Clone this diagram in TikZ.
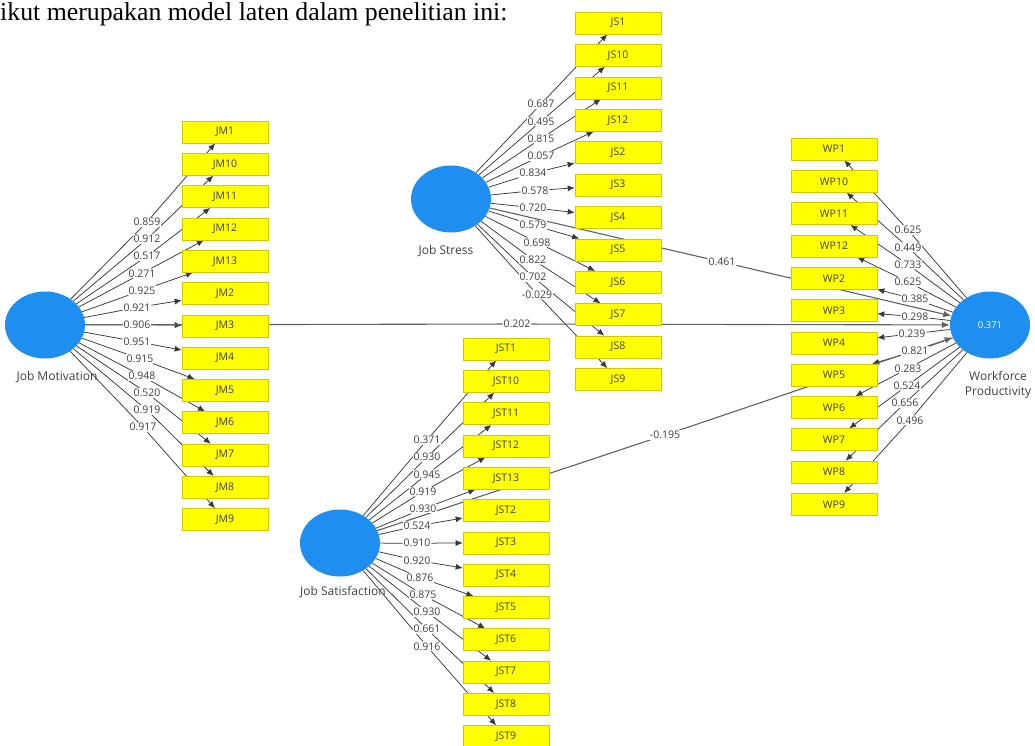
\documentclass[tikz,border=0pt]{standalone}
\usepackage{fontspec}
\setmainfont{Liberation Serif}
\newfontfamily\uifont{Open Sans}
\usetikzlibrary{arrows.meta,shapes.geometric}
\pgfdeclarelayer{bg}
\pgfsetlayers{bg,main}
\definecolor{lvblue}{HTML}{1E8EF0}
\definecolor{ylw}{HTML}{FFFF00}
\definecolor{ybd}{HTML}{D6C600}
\definecolor{lnc}{HTML}{383838}
\definecolor{txt}{HTML}{404040}
\begin{document}
\begin{tikzpicture}[x=1pt,y=-1pt,
  ind/.style={draw=ybd, line width=0.6pt, fill=ylw, minimum width=86pt, minimum height=22pt, inner sep=0pt, font=\uifont\fontsize{10.5}{11}\selectfont, text=txt},
  lat/.style={ellipse, fill=lvblue, minimum width=80pt, minimum height=67pt, inner sep=0pt, text=white, font=\uifont\fontsize{9.5}{10}\selectfont},
  lab/.style={fill=white, inner sep=0.8pt, font=\uifont\fontsize{10.5}{11}\selectfont, text=txt},
  capt/.style={inner sep=0pt, font=\uifont\fontsize{12}{15}\selectfont, text=txt, align=center},
  ln/.style={draw=lnc, line width=0.75pt},
  arr/.style={ln, -{Latex[length=7pt,width=6pt]}},
  pth/.style={draw=lnc!80, line width=1.1pt},
  parr/.style={pth, -{Latex[length=8pt,width=6.5pt]}}
]
\useasboundingbox (0,0) rectangle (1035,745);

% header text
\node[anchor=base west, inner sep=0pt, font=\fontsize{25.8}{30}\selectfont] (hdr) at (0,20) {ikut merupakan model laten dalam penelitian ini:};

% latent variables
\node[lat] (JM) at (45,325) {};
\node[lat] (JS) at (451,199) {};
\node[lat] (JST) at (340,543) {};
\node[lat] (WP) at (990,325) {0.371};
\node[capt] (cJM) at (57,377) {Job Motivation};
\node[capt] (cJS) at (446,251) {Job Stress};
\node[capt] (cJST) at (343,592) {Job Satisfaction};
\node[capt] (cWP) at (998,385) {Workforce\\Productivity};

% Job Motivation indicators
\foreach \n/\v/\lx [count=\i from 0] in {1/0.859/147,10/0.912/147,11/0.517/147,12/0.271/142,13/0.925/142,2/0.921/137,3/0.906/137,4/0.951/137,5/0.915/140,6/0.948/142,7/0.520/147,8/0.919/147,9/0.917/143}{
  \node[ind] (JM\n) at (225,{132+32.3*\i}) {JM\n};
  \node[lab] (lJM\n) at (\lx,{222+17.1*\i}) {\v};
  \begin{pgfonlayer}{bg}
    \draw[ln] (JM) -- (lJM\n);
    \draw[arr] (lJM\n) -- (JM\n);
  \end{pgfonlayer}
}

% Job Stress indicators
\foreach \n/\v/\lx [count=\i from 0] in {1/0.687/541,10/0.495/541,11/0.815/541,12/0.057/541,2/0.834/533,3/0.578/535,4/0.720/533,5/0.579/533,6/0.698/537,7/0.822/533,8/0.702/533,9/-0.029/537}{
  \node[ind] (JS\n) at (618,{23+32.4*\i}) {JS\n};
  \node[lab] (lJS\n) at (\lx,{104+17.3*\i}) {\v};
  \begin{pgfonlayer}{bg}
    \draw[ln] (JS) -- (lJS\n);
    \draw[arr] (lJS\n) -- (JS\n);
  \end{pgfonlayer}
}

% Job Satisfaction indicators
\foreach \n/\v/\lx [count=\i from 0] in {1/0.371/427,10/0.930/427,11/0.945/427,12/0.919/423,13/0.930/423,2/0.524/417,3/0.910/417,4/0.920/417,5/0.876/420,6/0.875/423,7/0.930/427,8/0.661/427,9/0.916/427}{
  \node[ind] (JST\n) at (506,{349+32.3*\i}) {JST\n};
  \node[lab] (lJST\n) at (\lx,{440+17.2*\i}) {\v};
  \begin{pgfonlayer}{bg}
    \draw[ln] (JST) -- (lJST\n);
    \draw[arr] (lJST\n) -- (JST\n);
  \end{pgfonlayer}
}

% Workforce Productivity indicators
\foreach \n/\v/\lx [count=\i from 0] in {1/0.625/908,10/0.449/908,11/0.733/908,12/0.625/908,2/0.385/915,3/0.298/915,4/0.239/912,5/0.821/915,6/0.283/908,7/0.524/907,8/0.656/905,9/0.496/910}{
  \node[ind] (WP\n) at (834,{149+32.3*\i}) {WP\n};
  \node[lab] (lWP\n) at (\lx,{230+17.3*\i}) {\v};
  \begin{pgfonlayer}{bg}
    \draw[ln] (WP) -- (lWP\n);
    \draw[arr] (lWP\n) -- (WP\n);
  \end{pgfonlayer}
}

% structural paths
\node[lab] (pJM) at (517,324) {0.202};
\node[lab] (pJS) at (722,262) {0.461};
\node[lab] (pJST) at (665,435) {-0.195};
\begin{pgfonlayer}{bg}
  \draw[pth] (JM) -- (pJM);
  \draw[parr] (pJM) -- (WP);
  \draw[pth] (JS) -- (pJS);
  \draw[parr] (pJS) -- (WP);
  \draw[pth] (JST) -- (pJST);
  \draw[parr] (pJST) -- (WP);
\end{pgfonlayer}
\end{tikzpicture}
\end{document}
